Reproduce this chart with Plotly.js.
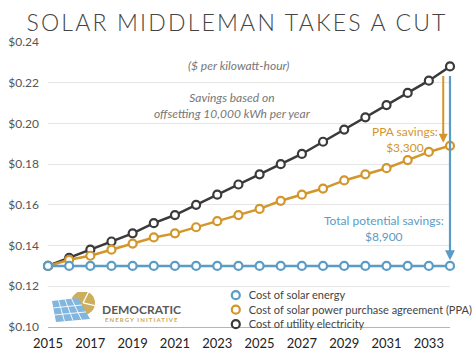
<!DOCTYPE html>
<html><head><meta charset="utf-8">
<script src="https://cdn.plot.ly/plotly-3.0.1.min.js"></script>
<style>
html,body{margin:0;padding:0;background:#fff}
.gtitle{letter-spacing:2.2px}
text[data-unformatted*="ENERGY INITIATIVE"], text[data-unformatted*="ENERGY INITIATIVE"] tspan{letter-spacing:1.1px}
</style>
</head><body>
<div id="chart" style="width:474px;height:355px"></div>
<script>
const years = [2015,2016,2017,2018,2019,2020,2021,2022,2023,2024,2025,2026,2027,2028,2029,2030,2031,2032,2033,2034];
const solarCost = [0.130,0.130,0.130,0.130,0.130,0.130,0.130,0.130,0.130,0.130,0.130,0.130,0.130,0.130,0.130,0.130,0.130,0.130,0.130,0.130];
const ppaCost = [0.130,0.133,0.135,0.138,0.141,0.144,0.146,0.149,0.152,0.155,0.158,0.162,0.165,0.168,0.172,0.175,0.178,0.182,0.186,0.189];
const utilityCost = [0.130,0.134,0.138,0.142,0.146,0.151,0.155,0.160,0.165,0.170,0.175,0.180,0.185,0.191,0.197,0.203,0.209,0.215,0.221,0.228];
const seriesNames = ['Cost of solar energy','Cost of solar power purchase agreement (PPA)','Cost of utility electricity'];
const xTickVals = [2015,2017,2019,2021,2023,2025,2027,2029,2031,2033];
const yTickVals = [0.10,0.12,0.14,0.16,0.18,0.20,0.22,0.24];

const BLUE = '#5b9cc6', GOLD = '#d3962a', DARK = '#3a3a3a';
const FONT = 'Lato, "Open Sans", sans-serif';

function series(y, name, color) {
  return {
    x: years, y: y, name: name, type: 'scatter', mode: 'lines+markers',
    cliponaxis: false,
    line: {color: color, width: 2.5},
    marker: {symbol: 'circle', size: 8, color: '#ffffff', line: {color: color, width: 2.2}}
  };
}

const data = [
  series(utilityCost, seriesNames[2], DARK),
  series(ppaCost, seriesNames[1], GOLD),
  series(solarCost, seriesNames[0], BLUE)
];

const logoSvg = '<svg xmlns="http://www.w3.org/2000/svg" width="44" height="32" viewBox="0 0 44 32">' +
  '<circle cx="31" cy="11" r="12" fill="#cdae5c"/>' +
  '<path d="M31 11 L37 -1 M31 11 L44 14" stroke="#fff" stroke-width="1.3"/>' +
  '<polygon points="0,9 26,6 38,27 4,30" fill="#82b6de"/>' +
  '<path d="M6.5 8.25 L12.5 29.25 M13 7.5 L21 28.5 M19.5 6.75 L29.5 27.75 M1.33 16 L30 13 M2.67 23 L34 20" stroke="#fff" stroke-width="0.9"/>' +
  '</svg>';

const layout = {
  width: 474, height: 355,
  margin: {l: 48, r: 24, t: 42, b: 28, autoexpand: false},
  paper_bgcolor: '#ffffff', plot_bgcolor: '#ffffff',
  font: {family: FONT, color: '#444'},
  showlegend: true,
  title: {text: 'SOLAR MIDDLEMAN TAKES A CUT', x: 0.5, xanchor: 'center', y: 0.935, yanchor: 'middle',
          font: {family: FONT, size: 23, color: '#444', weight: 300}},
  xaxis: {range: [2015, 2034], tickvals: xTickVals, ticktext: xTickVals.map(String),
          showgrid: false, zeroline: false, showline: true, linecolor: '#b5b5b5', linewidth: 1,
          ticks: '', ticklabelstandoff: 4, tickfont: {family: FONT, size: 13, color: '#222'}, fixedrange: true, automargin: false},
  yaxis: {range: [0.10, 0.24], tickvals: yTickVals, tickformat: '$.2f',
          showgrid: true, gridcolor: '#e6e6e6', gridwidth: 1, zeroline: false, showline: false,
          ticks: '', ticklabelstandoff: 8, tickfont: {family: FONT, size: 12, color: '#555'}, fixedrange: true, automargin: false},
  legend: {x: 0.40, y: 0.145, xanchor: 'left', yanchor: 'top', traceorder: 'reversed',
           bgcolor: 'rgba(0,0,0,0)', borderwidth: 0, font: {family: FONT, size: 11, color: '#444'}},
  images: [{source: 'data:image/svg+xml;utf8,' + encodeURIComponent(logoSvg),
            xref: 'paper', yref: 'paper', x: 0.00995, y: 0.123, sizex: 0.1095, sizey: 0.1123,
            xanchor: 'left', yanchor: 'top', sizing: 'stretch', layer: 'above'}],
  annotations: [
    {xref: 'x', yref: 'y', x: 2023.98, y: 0.2287, text: '<i>($ per kilowatt-hour)</i>', showarrow: false,
     font: {family: FONT, size: 12, color: '#777'}},
    {xref: 'x', yref: 'y', x: 2023.7, y: 0.209, text: '<i>Savings based on<br>offsetting 10,000 kWh per year</i>', showarrow: false,
     font: {family: FONT, size: 12, color: '#777'}},
    {xref: 'x', yref: 'y', x: 2031.87, y: 0.1923, text: 'PPA savings:<br>$3,300', showarrow: false,
     font: {family: FONT, size: 12, color: GOLD}},
    {xref: 'x', yref: 'y', x: 2030.88, y: 0.1484, text: 'Total potential savings:<br>$8,900', showarrow: false,
     font: {family: FONT, size: 12, color: BLUE}},
    {xref: 'x', yref: 'y', axref: 'x', ayref: 'y', x: 2033.68, y: 0.1905, ax: 2033.68, ay: 0.2240, text: '',
     showarrow: true, arrowhead: 2, arrowsize: 0.9, arrowwidth: 2, arrowcolor: GOLD, standoff: 0},
    {xref: 'x', yref: 'y', axref: 'x', ayref: 'y', x: 2034, y: 0.1328, ax: 2034, ay: 0.2240, text: '',
     showarrow: true, arrowhead: 2, arrowsize: 0.9, arrowwidth: 2.2, arrowcolor: BLUE, standoff: 0},
    {xref: 'paper', yref: 'paper', x: 0.13, y: 0.062, text: '<b>DEMOCRATIC</b>', showarrow: false,
     xanchor: 'left', yanchor: 'middle', font: {family: FONT, size: 12, color: '#5a5a5a'}},
    {xref: 'paper', yref: 'paper', x: 0.137, y: 0.026, text: '<b>ENERGY INITIATIVE</b>', showarrow: false,
     xanchor: 'left', yanchor: 'middle', font: {family: FONT, size: 6, color: '#c9a858'}}
  ]
};

Plotly.newPlot('chart', data, layout, {displayModeBar: false, staticPlot: true}).then(function(gd){
  // legend: marker-only symbols, tighter rows as in the reference
  gd.querySelectorAll('.legend .legendlines').forEach(function(el){ el.remove(); });
  gd.querySelectorAll('.legend .legendpoints').forEach(function(el){ el.setAttribute('transform', 'translate(7,0)'); });
  var items = gd.querySelectorAll('.legend .traces');
  items.forEach(function(el, i){
    el.setAttribute('transform', 'translate(0,' + (9.5 + i * 14.5) + ')');
  });
});
</script>
</body></html>
